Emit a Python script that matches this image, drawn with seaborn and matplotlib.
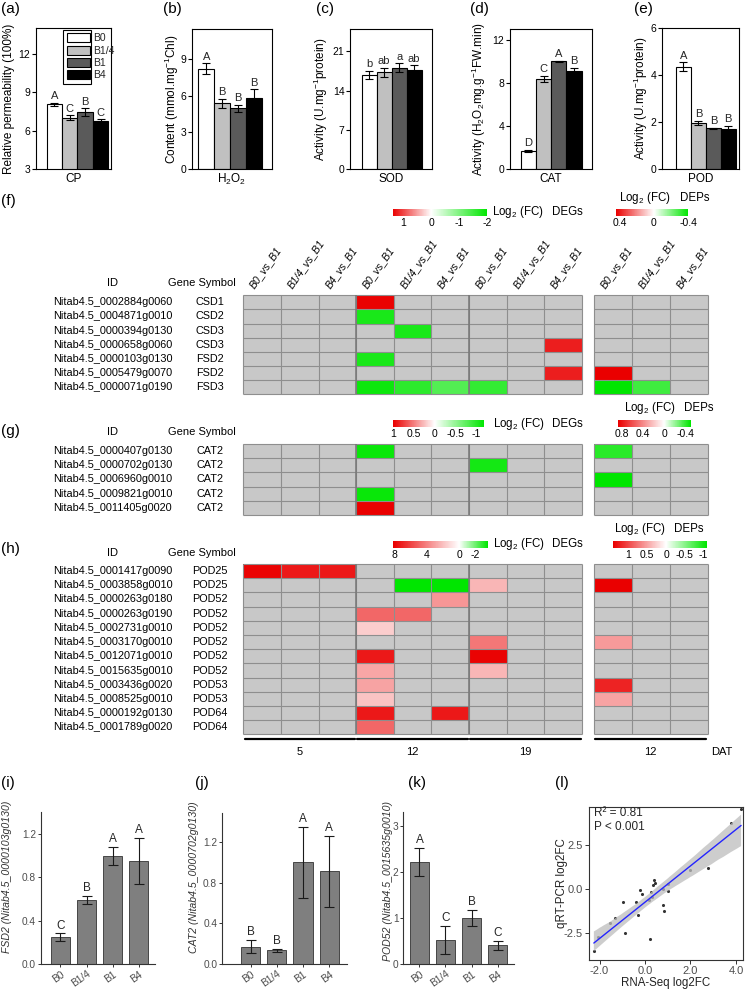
import numpy as np
import pandas as pd
import matplotlib
matplotlib.use('Agg')
import matplotlib.pyplot as plt
import seaborn as sns
from matplotlib.colors import LinearSegmentedColormap
from matplotlib.patches import Patch, Rectangle
from matplotlib.lines import Line2D
from matplotlib.collections import PolyCollection

sns.set_theme(style='ticks')
plt.rcParams['font.family'] = ['Liberation Sans', 'DejaVu Sans']
plt.rcParams['mathtext.fontset'] = 'custom'
plt.rcParams['mathtext.rm'] = 'Liberation Sans'
plt.rcParams['mathtext.it'] = 'Liberation Sans:italic'
plt.rcParams['mathtext.bf'] = 'Liberation Sans:bold'
plt.rcParams['axes.unicode_minus'] = False

n = np.nan
# ---------------- data ----------------
treatments = ['B0', 'B1/4', 'B1', 'B4']
bar_colors = ['#ffffff', '#c0c0c0', '#5a5a5a', '#000000']

cp_mean = [8.05, 7.02, 7.43, 6.77]
cp_err = [0.12, 0.18, 0.30, 0.10]
cp_letters = ['A', 'C', 'B', 'C']
h2o2_mean = [8.2, 5.38, 4.97, 5.84]
h2o2_err = [0.45, 0.35, 0.30, 0.70]
h2o2_letters = ['A', 'B', 'B', 'B']
sod_mean = [16.8, 17.3, 18.1, 17.7]
sod_err = [0.7, 0.8, 0.77, 0.8]
sod_letters = ['b', 'ab', 'a', 'ab']
cat_mean = [1.67, 8.33, 10.0, 9.07]
cat_err = [0.10, 0.28, 0.04, 0.30]
cat_letters = ['D', 'C', 'A', 'B']
pod_mean = [4.36, 1.97, 1.74, 1.70]
pod_err = [0.19, 0.08, 0.02, 0.13]
pod_letters = ['A', 'B', 'B', 'B']

deg_cols = ['B0_vs_B1', 'B1/4_vs_B1', 'B4_vs_B1'] * 3
dep_cols = ['B0_vs_B1', 'B1/4_vs_B1', 'B4_vs_B1']
dat_groups = ['5', '12', '19']
dep_dat = '12'

f_ids = ['Nitab4.5_0002884g0060', 'Nitab4.5_0004871g0010', 'Nitab4.5_0000394g0130',
         'Nitab4.5_0000658g0060', 'Nitab4.5_0000103g0130', 'Nitab4.5_0005479g0070',
         'Nitab4.5_0000071g0190']
f_syms = ['CSD1', 'CSD2', 'CSD3', 'CSD3', 'FSD2', 'FSD2', 'FSD3']
f_deg = [[n, n, n, 1.35, n, n, n, n, n],
         [n, n, n, -1.8, n, n, n, n, n],
         [n, n, n, n, -1.8, n, n, n, n],
         [n, n, n, n, n, n, n, n, 1.2],
         [n, n, n, -1.8, n, n, n, n, n],
         [n, n, n, n, n, n, n, n, 1.2],
         [n, n, n, -1.9, -1.65, -1.35, -1.6, n, n]]
f_dep = [[n, n, n], [n, n, n], [n, n, n], [n, n, n], [n, n, n],
         [0.44, n, n],
         [-0.4, -0.3, n]]

g_ids = ['Nitab4.5_0000407g0130', 'Nitab4.5_0000702g0130', 'Nitab4.5_0006960g0010',
         'Nitab4.5_0009821g0010', 'Nitab4.5_0011405g0020']
g_syms = ['CAT2', 'CAT2', 'CAT2', 'CAT2', 'CAT2']
g_deg = [[n, n, n, -1.15, n, n, n, n, n],
         [n, n, n, n, n, n, -1.1, n, n],
         [n, n, n, n, n, n, n, n, n],
         [n, n, n, -1.15, n, n, n, n, n],
         [n, n, n, 1.0, n, n, n, n, n]]
g_dep = [[-0.42, n, n], [n, n, n], [-0.5, n, n], [n, n, n], [n, n, n]]

h_ids = ['Nitab4.5_0001417g0090', 'Nitab4.5_0003858g0010', 'Nitab4.5_0000263g0180',
         'Nitab4.5_0000263g0190', 'Nitab4.5_0002731g0010', 'Nitab4.5_0003170g0010',
         'Nitab4.5_0012071g0010', 'Nitab4.5_0015635g0010', 'Nitab4.5_0003436g0020',
         'Nitab4.5_0008525g0010', 'Nitab4.5_0000192g0130', 'Nitab4.5_0001789g0020']
h_syms = ['POD25', 'POD25', 'POD52', 'POD52', 'POD52', 'POD52', 'POD52', 'POD52',
          'POD53', 'POD53', 'POD64', 'POD64']
h_deg = [[8.0, 7.3, 7.3, n, n, n, n, n, n],
         [n, n, n, n, -3.5, -3.5, 2.3, n, n],
         [n, n, n, n, n, 3.3, n, n, n],
         [n, n, n, 4.8, 4.8, n, n, n, n],
         [n, n, n, 1.6, n, n, n, n, n],
         [n, n, n, n, n, n, 4.3, n, n],
         [n, n, n, 7.3, n, n, 8.0, n, n],
         [n, n, n, 2.8, n, n, 2.3, n, n],
         [n, n, n, 2.9, n, n, n, n, n],
         [n, n, n, 1.9, n, n, n, n, n],
         [n, n, n, 7.3, n, 7.3, n, n, n],
         [n, n, n, 4.8, n, n, n, n, n]]
h_dep = [[n, n, n], [1.4, n, n], [n, n, n], [n, n, n], [n, n, n], [0.55, n, n],
         [n, n, n], [n, n, n], [1.2, n, n], [0.5, n, n], [n, n, n], [n, n, n]]

fsd2_mean = [0.245, 0.595, 1.0, 0.95]
fsd2_err = [0.037, 0.037, 0.082, 0.215]
fsd2_letters = ['C', 'B', 'A', 'A']
cat2_mean = [0.17, 0.135, 1.0, 0.915]
cat2_err = [0.065, 0.015, 0.35, 0.35]
cat2_letters = ['B', 'B', 'A', 'A']
pod52_mean = [2.22, 0.52, 1.0, 0.41]
pod52_err = [0.30, 0.30, 0.17, 0.10]
pod52_letters = ['A', 'C', 'B', 'C']

rna_log2fc = [4.23, 3.77, 2.76, 1.98, 1.00, 1.03, 0.81, 0.81, 0.84, 0.40, 0.44, 0.37, 0.29,
              0.25, 0.19, 0.22, -0.22, -0.15, -0.29, -0.40, -0.96, -0.88, -1.32, -1.54,
              -2.08, -2.25]
qpcr_log2fc = [4.57, 3.75, 1.18, 1.09, 0.29, -0.10, -0.02, -0.91, -1.24, 0.51, 0.32, 0.23,
               -0.44, -0.15, -0.63, -2.86, -0.06, -0.29, -1.49, -0.72, -0.72, -2.49, -1.68,
               -1.96, -2.72, -3.52]

# ---------------- helpers ----------------
W, H = 746, 992
fig = plt.figure(figsize=(W / 100, H / 100), dpi=100)


def ax_px(x0, y0, x1, y1):
    return fig.add_axes([x0 / W, 1 - y1 / H, (x1 - x0) / W, (y1 - y0) / H])


def txt(x, y, s, **kw):
    kw.setdefault('ha', 'center')
    kw.setdefault('va', 'center')
    kw.setdefault('color', 'black')
    return fig.text(x / W, 1 - y / H, s, **kw)


# ---------------- top panels (a)-(e) ----------------
top_specs = [
    ('(a)', 1, (36, 28.3, 110.7, 169), (-1.19, 3.66), (3, 14), [3, 6, 9, 12],
     cp_mean, cp_err, cp_letters, 'Relative permeability (100%)', 9, 'CP'),
    ('(b)', 163, (191.7, 29.3, 272.3, 169), (-0.91, 4.13), (0, 11.45), [0, 3, 6, 9],
     h2o2_mean, h2o2_err, h2o2_letters, 'Content (mmol.mg$^{-1}$Chl)', 172, 'H$_2$O$_2$'),
    ('(c)', 316, (350, 29, 431.7, 169), (-1.28, 4.17), (0, 25.0), [0, 7, 14, 21],
     sod_mean, sod_err, sod_letters, 'Activity (U.mg$^{-1}$protein)', 321, 'SOD'),
    ('(d)', 470, (510, 29.3, 591.7, 169), (-1.2, 4.16), (0, 12.95), [0, 4, 8, 12],
     cat_mean, cat_err, cat_letters, 'Activity (H$_2$O$_2$mg.g$^{-1}$FW.min)', 479, 'CAT'),
    ('(e)', 634, (661.7, 28.3, 739.3, 169), (-1.46, 3.74), (0, 6.0), [0, 2, 4, 6],
     pod_mean, pod_err, pod_letters, 'Activity (U.mg$^{-1}$protein)', 641, 'POD'),
]

for (lab, labx, box, xlim, ylim, yticks, mean, err, letters, ylab, ylx, xlab) in top_specs:
    ax = ax_px(*box)
    df = pd.DataFrame({'trt': treatments, 'val': mean})
    sns.barplot(data=df, x='trt', y='val', hue='trt', order=treatments, hue_order=treatments,
                palette=bar_colors, width=1.0, edgecolor='black', linewidth=0.8,
                saturation=1, errorbar=None, legend=False, ax=ax)
    ax.errorbar(np.arange(4), mean, yerr=err, fmt='none', ecolor='black',
                elinewidth=0.8, capsize=3, capthick=0.8, zorder=5)
    off = (ylim[1] - ylim[0]) * 0.012
    for i, (m, e, l) in enumerate(zip(mean, err, letters)):
        ax.text(i, m + e + off, l, ha='center', va='bottom', fontsize=8)
    ax.set_xlim(*xlim)
    ax.set_ylim(*ylim)
    ax.set_yticks(yticks)
    ax.set_xticks([])
    ax.set_xlabel('')
    ax.set_ylabel('')
    for sp in ax.spines.values():
        sp.set_visible(True)
        sp.set_color('black')
        sp.set_linewidth(0.8)
    ax.tick_params(axis='y', direction='out', length=3, width=0.8, labelsize=7.5,
                   pad=1, colors='black')
    cy = (box[1] + box[3]) / 2
    txt(ylx, cy, ylab, rotation=90, fontsize=8.5)
    txt((box[0] + box[2]) / 2, 179, xlab, fontsize=8.5)
    txt(labx, 9, lab, ha='left', fontsize=11)
    if lab == '(a)':
        handles = [Patch(facecolor=c, edgecolor='black', linewidth=0.8, label=t)
                   for c, t in zip(bar_colors, treatments)]
        ax.legend(handles=handles, loc='upper left', bbox_to_anchor=(0.41, 0.965),
                  frameon=False, fontsize=7.5, handlelength=2.2, handleheight=0.95,
                  labelspacing=0.22, handletextpad=0.35, borderaxespad=0, borderpad=0)
        fig.patches.append(Rectangle((63.3 / W, 1 - 83.5 / H), 27.4 / W, 53.5 / H,
                                     fill=False, lw=0.8, ec='black',
                                     transform=fig.transFigure, figure=fig))


# ---------------- heatmaps (f)-(h) ----------------
def rg_cmap(vmin, vmax):
    p = -vmin / (vmax - vmin)
    return LinearSegmentedColormap.from_list(
        'rg', [(0, '#00e600'), (p, '#ffffff'), (1, '#ea0000')])


def draw_heat(box, data, vmin, vmax, cbar_box, ticks, ticklabels, groups=None):
    arr = np.array(data, dtype=float)
    ax = ax_px(*box)
    cax = ax_px(*cbar_box)
    sns.heatmap(arr, ax=ax, cmap=rg_cmap(vmin, vmax), vmin=vmin, vmax=vmax,
                cbar=True, cbar_ax=cax, cbar_kws={'orientation': 'horizontal'},
                xticklabels=False, yticklabels=False, linewidths=0)
    ax.set_facecolor('#c8c8c8')
    nr, nc = arr.shape
    ax.hlines(np.arange(nr + 1), 0, nc, colors='#8e8e8e', lw=0.8, clip_on=False)
    ax.vlines(np.arange(nc + 1), 0, nr, colors='#8e8e8e', lw=0.8, clip_on=False)
    if groups:
        ax.vlines(groups, 0, nr, colors='#777777', lw=1.1, clip_on=False)
    cb = ax.collections[0].colorbar
    cb.outline.set_visible(False)
    cax.invert_xaxis()
    cax.set_xticks(ticks)
    cax.set_xticklabels(ticklabels, fontsize=7.5)
    cax.tick_params(axis='x', length=0, pad=1.5, colors='black')
    cax.tick_params(axis='y', left=False, right=False, labelleft=False, labelright=False)
    return ax


def row_labels(ids, syms, top, rh, head_y):
    txt(112.5, head_y, 'ID', fontsize=8)
    txt(202, head_y, 'Gene Symbol', fontsize=8)
    for i, (a, b) in enumerate(zip(ids, syms)):
        y = top + rh * (i + 0.5)
        txt(112.5, y, a, fontsize=7.8)
        txt(210, y, b, fontsize=7.8)


DX0, DX1 = 243.3, 581.7
PX0, PX1 = 594.0, 707.6

# (f)
txt(1, 201, '(f)', ha='left', fontsize=11)
draw_heat((DX0, 295.3, DX1, 394.0), f_deg, -2.0, 1.37, (392.7, 209.3, 487.3, 215.5),
          [1, 0, -1, -2], ['1', '0', '-1', '-2'], groups=[3, 6])
draw_heat((PX0, 295.3, PX1, 394.0), f_dep, -0.4, 0.44, (616, 209.3, 688.3, 215.5),
          [0.4, 0, -0.4], ['0.4', '0', '-0.4'])
txt(492, 212, 'Log$_2$ (FC)', ha='left', fontsize=8.3)
txt(552, 212, 'DEGs', ha='left', fontsize=8.3)
txt(619, 198, 'Log$_2$ (FC)', ha='left', fontsize=8.3)
txt(680, 198, 'DEPs', ha='left', fontsize=8.3)
row_labels(f_ids, f_syms, 295.3, 14.1, 282.7)
cw = (DX1 - DX0) / 9
for i, c in enumerate(deg_cols):
    cx = DX0 + cw * (i + 0.5)
    txt(cx - 6, 290, c, ha='left', va='bottom', rotation=55, rotation_mode='anchor',
        style='italic', fontsize=7.6)
pw = (PX1 - PX0) / 3
for i, c in enumerate(dep_cols):
    cx = PX0 + pw * (i + 0.5)
    txt(cx - 6, 290, c, ha='left', va='bottom', rotation=55, rotation_mode='anchor',
        style='italic', fontsize=7.6)

# (g)
txt(1, 431, '(g)', ha='left', fontsize=11)
draw_heat((DX0, 444.0, DX1, 515.0), g_deg, -1.2, 1.0, (393.3, 420, 484.3, 426.7),
          [1, 0.5, 0, -0.5, -1], ['1', '0.5', '0', '-0.5', '-1'], groups=[3, 6])
draw_heat((PX0, 444.0, PX1, 515.0), g_dep, -0.5, 0.86, (618.3, 420, 690.7, 426.7),
          [0.8, 0.4, 0, -0.4], ['0.8', '0.4', '0', '-0.4'])
txt(492.7, 423.5, 'Log$_2$ (FC)', ha='left', fontsize=8.3)
txt(552, 423.5, 'DEGs', ha='left', fontsize=8.3)
txt(624, 408, 'Log$_2$ (FC)', ha='left', fontsize=8.3)
txt(684, 408, 'DEPs', ha='left', fontsize=8.3)
row_labels(g_ids, g_syms, 444.0, 14.2, 432.3)

# (h)
txt(1, 549, '(h)', ha='left', fontsize=11)
draw_heat((DX0, 564.0, DX1, 734.4), h_deg, -3.5, 8.1, (393.3, 541, 487.7, 547.7),
          [8, 4, 0, -2], ['8', '4', '0', '-2'], groups=[3, 6])
draw_heat((PX0, 564.0, PX1, 734.4), h_dep, -1.08, 1.4, (613.3, 541, 706.7, 547.7),
          [1, 0.5, 0, -0.5, -1], ['1', '0.5', '0', '-0.5', '-1'])
txt(492.7, 544.3, 'Log$_2$ (FC)', ha='left', fontsize=8.3)
txt(552, 544.3, 'DEGs', ha='left', fontsize=8.3)
txt(614, 529, 'Log$_2$ (FC)', ha='left', fontsize=8.3)
txt(674, 529, 'DEPs', ha='left', fontsize=8.3)
row_labels(h_ids, h_syms, 564.0, 14.2, 552.7)

# DAT lines
gw = (DX1 - DX0) / 3
for k, g in enumerate(dat_groups):
    x0 = DX0 + gw * k + 1.2
    x1 = DX0 + gw * (k + 1) - 1.2
    fig.add_artist(Line2D([x0 / W, x1 / W], [1 - 739 / H] * 2, transform=fig.transFigure,
                          color='black', lw=1.6))
    txt((x0 + x1) / 2, 752, g, fontsize=8)
fig.add_artist(Line2D([(PX0 + 1.2) / W, (PX1 - 1.2) / W], [1 - 739 / H] * 2,
                      transform=fig.transFigure, color='black', lw=1.6))
txt((PX0 + PX1) / 2, 752, dep_dat, fontsize=8)
txt(721.5, 752, 'DAT', fontsize=8)

# ---------------- bottom bar panels (i)-(k) ----------------
bot_specs = [
    ('(i)', 1, (40.7, 811.7, 155, 964), (-0.76, 3.63), (0, 1.407), [0, 0.4, 0.8, 1.2],
     ['0.0', '0.4', '0.8', '1.2'], fsd2_mean, fsd2_err, fsd2_letters,
     'FSD2 (Nitab4.5_0000103g0130)', 7, 877),
    ('(j)', 195, (222, 812.7, 346.7, 964), (-1.1, 3.67), (0, 1.49), [0, 0.4, 0.8, 1.2],
     ['0.0', '0.4', '0.8', '1.2'], cat2_mean, cat2_err, cat2_letters,
     'CAT2 (Nitab4.5_0000702g0130)', 194, 877),
    ('(k)', 408, (403.3, 811.7, 514, 964), (-0.62, 3.63), (0, 3.31), [0, 1, 2, 3],
     ['0', '1', '2', '3'], pod52_mean, pod52_err, pod52_letters,
     'POD52 (Nitab4.5_0015635g0010)', 388, 881),
]
for (lab, labx, box, xlim, ylim, yticks, ytl, mean, err, letters, ylab, ylx, yly) in bot_specs:
    ax = ax_px(*box)
    df = pd.DataFrame({'trt': treatments, 'val': mean})
    sns.barplot(data=df, x='trt', y='val', order=treatments, color='#7f7f7f', width=0.73,
                edgecolor='#333333', linewidth=0.6, saturation=1, errorbar=None, ax=ax)
    ax.errorbar(np.arange(4), mean, yerr=err, fmt='none', ecolor='#1a1a1a',
                elinewidth=0.8, capsize=3.5, capthick=0.8, zorder=5)
    off = (ylim[1] - ylim[0]) * 0.012
    for i, (m, e, l) in enumerate(zip(mean, err, letters)):
        ax.text(i, m + e + off, l, ha='center', va='bottom', fontsize=8.5)
    ax.set_xlim(*xlim)
    ax.set_ylim(*ylim)
    ax.set_yticks(yticks)
    ax.set_yticklabels(ytl)
    ax.set_xticks(range(4))
    ax.set_xticklabels(treatments, rotation=35, ha='right', rotation_mode='anchor')
    ax.set_xlabel('')
    ax.set_ylabel('')
    sns.despine(ax=ax)
    for s in ['left', 'bottom']:
        ax.spines[s].set_color('#333333')
        ax.spines[s].set_linewidth(0.8)
    ax.tick_params(direction='out', length=2.5, width=0.7, color='#333333',
                   labelsize=7.3, labelcolor='#4d4d4d', pad=1)
    txt(ylx, yly, ylab, rotation=90, fontsize=7.6, style='italic', color='#333333')
    txt(labx, 783, lab, ha='left', fontsize=11)

# ---------------- (l) scatter with regression ----------------
ax = ax_px(589.3, 806.7, 742.7, 960)
sns.regplot(x=rna_log2fc, y=qpcr_log2fc, ax=ax, color='#111111', ci=95, seed=0,
            scatter_kws={'s': 5, 'color': 'black', 'linewidths': 0},
            line_kws={'color': '#2424ff', 'lw': 1})
for c in ax.collections:
    if isinstance(c, PolyCollection):
        c.set_facecolor('#bdbdbd')
        c.set_alpha(0.75)
        c.set_edgecolor('none')
ax.set_xlim(-2.45, 4.3)
ax.set_ylim(-4.06, 4.7)
ax.set_xticks([-2, 0, 2, 4])
ax.set_xticklabels(['-2.0', '0.0', '2.0', '4.0'])
ax.set_yticks([-2.5, 0, 2.5])
ax.set_yticklabels(['-2.5', '0.0', '2.5'])
for sp in ax.spines.values():
    sp.set_visible(True)
    sp.set_color('#333333')
    sp.set_linewidth(0.8)
ax.tick_params(direction='out', length=3, width=0.7, color='#333333',
               labelsize=8, labelcolor='#4d4d4d', pad=1.5)
ax.text(0.03, 0.96, 'R² = 0.81', transform=ax.transAxes, ha='left', va='center', fontsize=8.5)
ax.text(0.03, 0.87, 'P < 0.001', transform=ax.transAxes, ha='left', va='center', fontsize=8.5)
txt(561.7, 883, 'qRT-PCR log2FC', rotation=90, fontsize=8.3, color='#222222')
txt(666, 983, 'RNA-Seq log2FC', fontsize=8.3, color='#222222')
txt(555, 783, '(l)', ha='left', fontsize=11)

fig.savefig('out.png', dpi=100)
